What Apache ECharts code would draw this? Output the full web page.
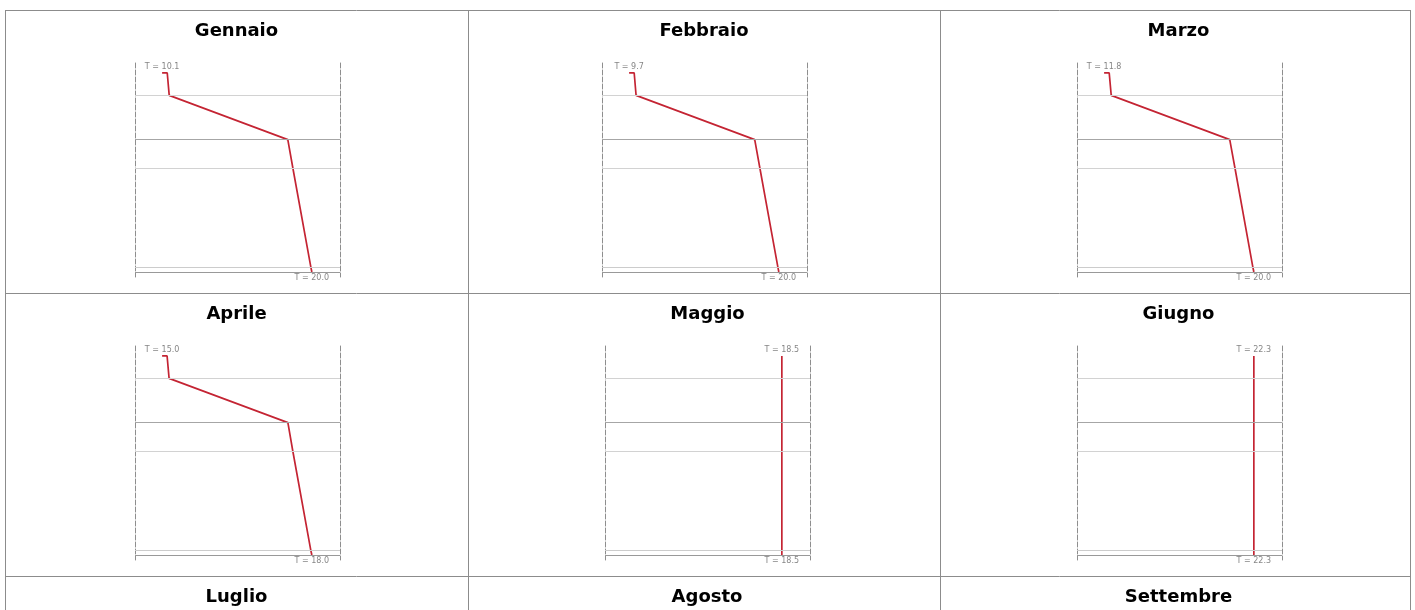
<!DOCTYPE html>
<html>
<head>
<meta charset="utf-8">
<script src="https://cdn.jsdelivr.net/npm/echarts@6/dist/echarts.min.js"></script>
<style>
  html, body { margin: 0; padding: 0; background: #fff; }
  #chart { width: 1415px; height: 610px; }
</style>
</head>
<body>
<div id="chart"></div>
<script>
// Month names, one per table cell (row by row)
const months = ['Gennaio', 'Febbraio', 'Marzo', 'Aprile', 'Maggio', 'Giugno', 'Luglio', 'Agosto', 'Settembre'];

// Depth through the wall (outside at 0, inside at 40): outside air, outer face, layer interfaces, inner face
const depths = [0, 0, 4.5, 13.4, 19.2, 39.1, 40];
// Layer interfaces drawn as horizontal lines
const layerBounds = [4.5, 13.4, 19.2, 39.1, 40];

// Temperature at each depth point, per month (°C)
const tGennaio  = [10.1, 10.44, 10.57, 18.41, 18.75, 19.94, 20.0];
const tFebbraio = [9.7, 10.05, 10.18, 18.34, 18.70, 19.94, 20.0];
const tMarzo    = [11.8, 12.08, 12.19, 18.68, 18.97, 19.95, 20.0];
const tAprile   = [15.0, 15.10, 15.14, 17.52, 17.62, 17.98, 18.0];
const tMaggio   = [18.5, 18.5, 18.5, 18.5, 18.5, 18.5, 18.5];
const tGiugno   = [22.3, 22.3, 22.3, 22.3, 22.3, 22.3, 22.3];

const profiles = [tGennaio, tFebbraio, tMarzo, tAprile, tMaggio, tGiugno];

// ---- layout and styling ----
const colEdges = [5, 468, 940, 1410];
const rowTops = [10, 293, 576];
// per-cell horizontal placement (row by row)
const titleCenters = [236.5, 704, 1178.5, 236.5, 707.5, 1178.5, 236.5, 707, 1178.5];
const plotLefts = [135, 602, 1077, 135, 605, 1077];
const plotWidth = 205;
const plotTopOffset = 53;
const plotHeight = 214;
const depthMin = -2, depthMax = 41;
const boundColors = ['#d2d2d2', '#a6a6a6', '#d2d2d2', '#cccccc', '#999999'];
const borderColor = '#8c8c8c';
const profileColor = '#c42433';

const grids = [], xAxes = [], yAxes = [], series = [];

profiles.forEach((temps, i) => {
  const r = Math.floor(i / 3);
  grids.push({
    left: plotLefts[i], width: plotWidth,
    top: rowTops[r] + plotTopOffset, height: plotHeight
  });

  let lo = Math.min(...temps), hi = Math.max(...temps);
  if (hi === lo) lo = hi - 1;
  const span = hi - lo;
  xAxes.push({
    type: 'value', gridIndex: i, show: false,
    min: lo - 0.181 * span, max: hi + 0.188 * span
  });

  ['left', 'right'].forEach(pos => {
    yAxes.push({
      type: 'value', gridIndex: i, position: pos, inverse: true,
      min: depthMin, max: depthMax,
      axisLine: { show: true, onZero: false, lineStyle: { color: '#8e8e8e', width: 1, type: [5, 2] } },
      axisTick: { show: false }, axisLabel: { show: false }, splitLine: { show: false }
    });
  });

  const pts = depths.map((d, k) => [temps[k], d]);
  const last = pts.length - 1;

  // layer interfaces + end labels
  series.push({
    type: 'scatter', xAxisIndex: i, yAxisIndex: 2 * i, z: 1,
    symbol: 'circle', symbolSize: 1,
    itemStyle: { color: 'rgba(0,0,0,0)' },
    silent: true,
    data: [
      { value: pts[0], label: { show: true, position: 'top', distance: 2 } },
      { value: pts[last], label: { show: true, position: 'bottom', distance: 1 } }
    ],
    label: {
      formatter: p => 'T = ' + p.value[0].toFixed(1),
      fontSize: 8, fontFamily: 'DejaVu Sans', color: '#666'
    },
    markLine: {
      silent: true, symbol: ['none', 'none'], label: { show: false },
      data: layerBounds.map((b, k) => ({
        yAxis: b, lineStyle: { color: boundColors[k], width: 1, type: 'solid' }
      }))
    }
  });

  // temperature profile
  series.push({
    type: 'line', xAxisIndex: i, yAxisIndex: 2 * i, z: 3,
    data: pts, symbol: 'none', silent: true,
    lineStyle: { color: profileColor, width: 1.7 }
  });
});

// table borders and month titles
const graphic = [];
rowTops.forEach(y => {
  graphic.push({ type: 'line', silent: true,
    shape: { x1: colEdges[0], y1: y + 0.5, x2: colEdges[3] + 1, y2: y + 0.5 },
    style: { stroke: borderColor, lineWidth: 1 } });
});
colEdges.forEach(x => {
  graphic.push({ type: 'line', silent: true,
    shape: { x1: x + 0.5, y1: rowTops[0], x2: x + 0.5, y2: 610 },
    style: { stroke: borderColor, lineWidth: 1 } });
});
months.forEach((m, i) => {
  const r = Math.floor(i / 3);
  graphic.push({ type: 'text', silent: true,
    x: titleCenters[i], y: rowTops[r] + 21.5,
    style: { text: m, fill: '#000', fontSize: 18, fontWeight: 'bold',
      fontFamily: 'DejaVu Sans', align: 'center', verticalAlign: 'middle' } });
});

const chart = echarts.init(document.getElementById('chart'));
chart.setOption({
  animation: false,
  backgroundColor: '#fff',
  grid: grids, xAxis: xAxes, yAxis: yAxes, series: series,
  graphic: graphic
});
</script>
</body>
</html>
